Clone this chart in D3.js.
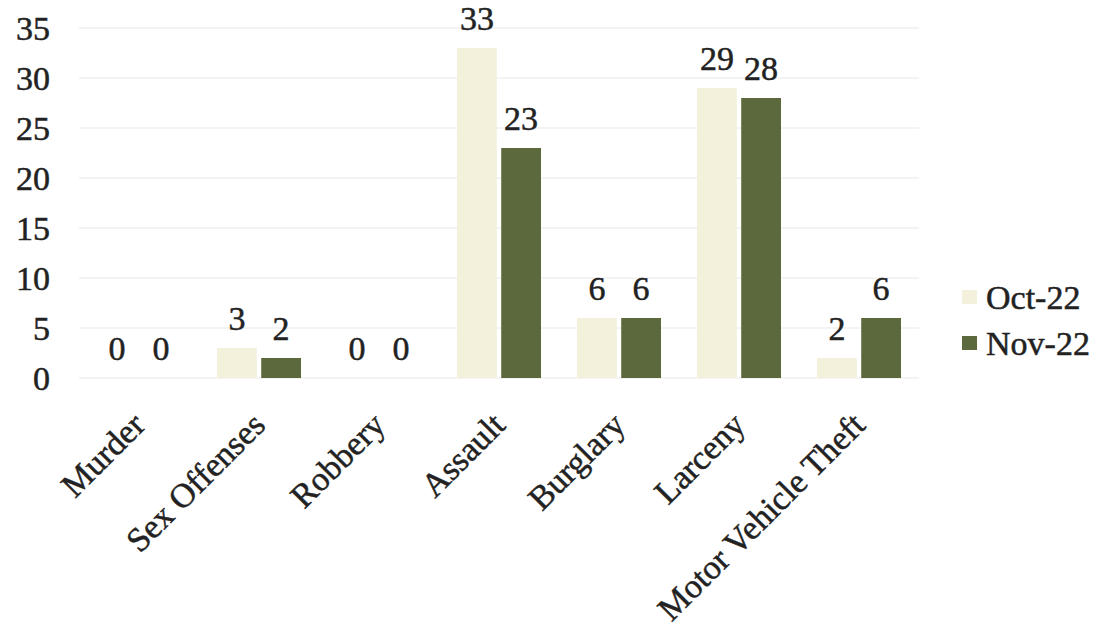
<!DOCTYPE html>
<html><head><meta charset="utf-8">
<script src="https://cdn.jsdelivr.net/npm/d3@7"></script>
<style>body{margin:0;background:#fff;}svg{display:block;}</style>
</head><body>
<script>
const categories = ["Murder","Sex Offenses","Robbery","Assault","Burglary","Larceny","Motor Vehicle Theft"];
const seriesNames = ["Oct-22","Nov-22"];
const oct22 = [0,3,0,33,6,29,2];
const nov22 = [0,2,0,23,6,28,6];
const yTicks = [0,5,10,15,20,25,30,35];

const W=1096,H=634;
const colors = {"Oct-22":"#f3f0dc","Nov-22":"#5c693c"};
const FS = 34;
const svg = d3.select("body").append("svg").attr("width",W).attr("height",H);

function styleText(sel){
  sel.attr("font-family","Liberation Serif, Times New Roman, serif").attr("font-size",FS).attr("fill","#222")
     .attr("stroke","#222").attr("stroke-width",0.5);
}

const x = d3.scaleBand().domain(categories).range([79,919]);
const x1 = d3.scaleBand().domain(seriesNames).range([18,102]).paddingInner(0.1);
const y = d3.scaleLinear().domain([0,35]).range([378,28]);

// gridlines
svg.append("g").selectAll("line").data(yTicks).join("line")
  .attr("x1",79).attr("x2",919).attr("y1",d=>y(d)).attr("y2",d=>y(d))
  .attr("stroke","#e8e8e8").attr("stroke-width",1);

// y axis labels
const yAxis = d3.axisLeft(y).tickValues(yTicks).tickSize(0).tickPadding(0);
const ya = svg.append("g").attr("transform","translate(50,0)").call(yAxis);
ya.select(".domain").remove();
ya.selectAll("text").call(styleText).attr("dy","0.34em");

const data = categories.map((c,i)=>({c, vals:[{s:"Oct-22",v:oct22[i]},{s:"Nov-22",v:nov22[i]}]}));
const g = svg.append("g").selectAll("g").data(data).join("g").attr("transform",d=>`translate(${x(d.c)},0)`);
g.selectAll("rect").data(d=>d.vals).join("rect")
  .attr("x",d=>x1(d.s)).attr("width",x1.bandwidth())
  .attr("y",d=>y(d.v)).attr("height",d=>y(0)-y(d.v))
  .attr("fill",d=>colors[d.s]);
g.selectAll("text").data(d=>d.vals).join("text")
  .attr("x",d=>x1(d.s)+x1.bandwidth()/2).attr("y",d=>y(d.v)-18)
  .attr("text-anchor","middle").call(styleText)
  .text(d=>d.v);

// x axis labels
const xAxis = d3.axisBottom(x).tickSize(0).tickPadding(0);
const xa = svg.append("g").attr("transform","translate(0,392)").call(xAxis);
xa.select(".domain").remove();
xa.selectAll("text").call(styleText)
  .attr("text-anchor","end").attr("dy","0")
  .attr("transform","translate(8,35) rotate(-45)");

// legend
const lg = svg.append("g").selectAll("g").data(seriesNames).join("g")
  .attr("transform",(d,i)=>`translate(962,${297+i*46})`);
lg.append("rect").attr("x",0).attr("y",-7).attr("width",15).attr("height",14).attr("fill",d=>colors[d]);
lg.append("text").attr("x",24).attr("y",0).attr("dy","0.34em").call(styleText).text(d=>d);
</script>
</body></html>
